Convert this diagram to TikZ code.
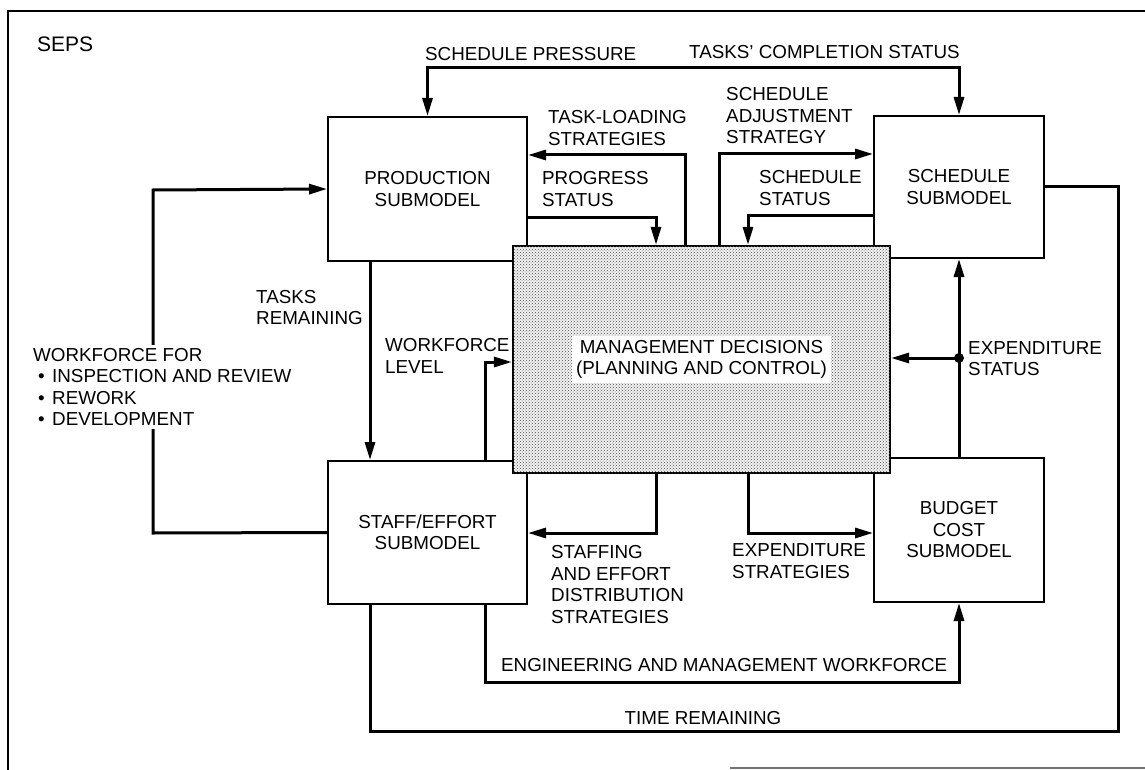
\documentclass[tikz,border=0pt]{standalone}
\usepackage{fontspec}
\setmainfont{Liberation Sans}
\usetikzlibrary{arrows.meta,patterns}
\tikzset{
  box/.style={draw, line width=2pt, fill=white, inner sep=0pt, align=center,
    font=\fontsize{18.8}{21.5}\selectfont},
  mgmtbox/.style={draw, line width=2.2pt, fill=black!5, inner sep=0pt,
    postaction={pattern=crosshatch dots, pattern color=black!70}},
  conn/.style={line width=3pt},
  tip/.style={-{Triangle[length=18pt,width=10pt]}},
  lbl/.style={font=\fontsize{18.8}{21.5}\selectfont, inner sep=0pt, align=left, anchor=west},
}
\begin{document}
\begin{tikzpicture}[x=1pt,y=-1pt]
\useasboundingbox (0,0) rectangle (1145,770);
% frame
\draw[line width=1.8pt] (1145,11) -- (8,11) -- (8,770);
\draw[line width=1.2pt, black!55] (730,768) -- (1145,768);
\node[lbl, font=\fontsize{21}{24}\selectfont] (seps) at (37,44) {SEPS};

% boxes
\node[box, minimum width=199pt, minimum height=144pt] (prod) at (427.5,189) {PRODUCTION\\SUBMODEL};
\node[box, minimum width=170pt, minimum height=142pt] (sched) at (959,187) {SCHEDULE\\SUBMODEL};
\node[box, minimum width=199pt, minimum height=143pt] (staff) at (427.5,532.5) {STAFF/EFFORT\\SUBMODEL};
\node[box, minimum width=170pt, minimum height=144pt] (budget) at (959,530) {BUDGET\\COST\\SUBMODEL};
\node[mgmtbox, minimum width=377pt, minimum height=227pt] (mgmt) at (701.5,359.5) {};
\node[box, draw=none, inner sep=4pt] (mgmtlbl) at (mgmt.center) {MANAGEMENT DECISIONS\\(PLANNING AND CONTROL)};

% bend coordinates
\coordinate (topy) at (0,68);
\coordinate (c2) at (685,155);
\coordinate (c3) at (656,217);
\coordinate (c4) at (719,154);
\coordinate (c5) at (748,215);
\coordinate (c6a) at (1118,187);
\coordinate (c6b) at (370,731);
\coordinate (c8) at (485,362);
\coordinate (c9a) at (153,533);
\coordinate (c9b) at (153,190);
\coordinate (c10) at (656,533);
\coordinate (c11) at (748,533);
\coordinate (c12) at (485,682);
\coordinate (c13) at (0,358);

% connectors
\draw[conn, {Triangle[length=18pt,width=10pt]}-{Triangle[length=18pt,width=10pt]}]
  (prod.north) -- (prod.north |- topy) -- (sched.north |- topy) -- (sched.north);
\draw[conn, tip] (c2 |- mgmt.north) -- (c2) -- (c2 -| prod.east);
\draw[conn, tip] (c3 -| prod.east) -- (c3) -- (c3 |- mgmt.north);
\draw[conn, tip] (c4 |- mgmt.north) -- (c4) -- (c4 -| sched.west);
\draw[conn, tip] (c5 -| sched.west) -- (c5) -- (c5 |- mgmt.north);
\draw[conn] (sched.east) -- (c6a |- sched.east) -- (c6a |- c6b) -- (c6b) -- (c6b |- staff.south);
\draw[conn, tip] (c6b |- prod.south) -- (c6b |- staff.north);
\draw[conn, tip] (c8 |- staff.north) -- (c8) -- (c8 -| mgmt.west);
\draw[conn, tip] (staff.west) -- (c9a) -- (c9b) -- (prod.west);
\draw[conn, tip] (c10 |- mgmt.south) -- (c10) -- (c10 -| staff.east);
\draw[conn, tip] (c11 |- mgmt.south) -- (c11) -- (c11 -| budget.west);
\draw[conn, tip] (c12 |- staff.south) -- (c12) -- (c12 -| budget.south) -- (budget.south);
\draw[conn, tip] (budget.north) -- (sched.south);
\coordinate (dotpt) at (budget.north |- c13);
\fill (dotpt) circle (5pt);
\draw[conn, tip] (dotpt) -- (dotpt -| mgmt.east);

% labels
\node[lbl] (lsp) at (425,54) {SCHEDULE PRESSURE};
\node[lbl] (ltc) at (689,52) {TASKS' COMPLETION STATUS};
\node[lbl] (ltl) at (548,128) {TASK-LOADING\\STRATEGIES};
\node[lbl] (lps) at (542,189) {PROGRESS\\STATUS};
\node[lbl] (lsa) at (726,116) {SCHEDULE\\ADJUSTMENT\\STRATEGY};
\node[lbl] (lss) at (759,188) {SCHEDULE\\STATUS};
\node[lbl] (ltr) at (256,307.5) {TASKS\\REMAINING};
\node[lbl] (lwl) at (385,356) {WORKFORCE\\LEVEL};
\node[lbl, fill=white, inner sep=3pt] (lwf) at (30,387) {WORKFORCE FOR\\
  \makebox[19pt][l]{\hspace{5pt}•}INSPECTION AND REVIEW\\
  \makebox[19pt][l]{\hspace{5pt}•}REWORK\\
  \makebox[19pt][l]{\hspace{5pt}•}DEVELOPMENT};
\node[lbl] (lst) at (551,584.5) {STAFFING\\AND EFFORT\\DISTRIBUTION\\STRATEGIES};
\node[lbl] (les) at (732,561) {EXPENDITURE\\STRATEGIES};
\node[lbl] (lem) at (501,665) {ENGINEERING AND MANAGEMENT WORKFORCE};
\node[lbl] (lex) at (968,358.5) {EXPENDITURE\\STATUS};
\node[lbl, anchor=center] (ltime) at (703,718) {TIME REMAINING};
\end{tikzpicture}
\end{document}
